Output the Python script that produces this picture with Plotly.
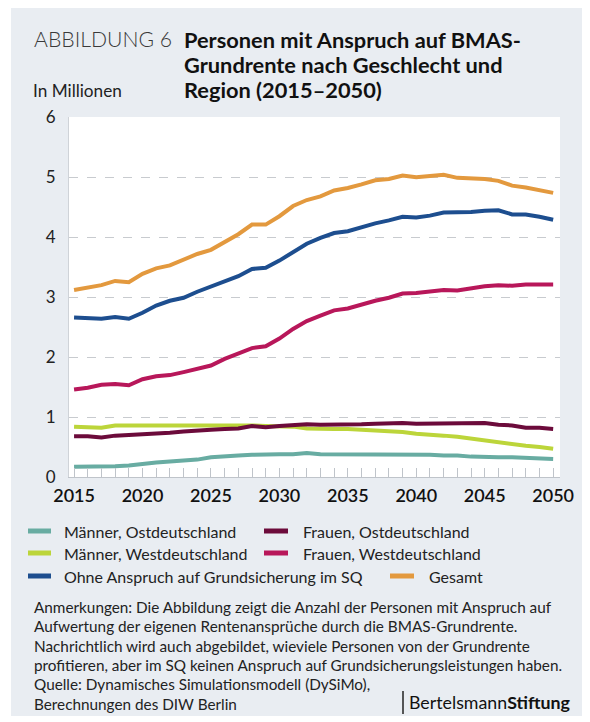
import plotly.graph_objects as go

years = list(range(2015, 2051))

maenner_ost = [0.17, 0.17, 0.17, 0.18, 0.19, 0.22, 0.24, 0.26, 0.27, 0.29,
               0.33, 0.35, 0.36, 0.37, 0.38, 0.38, 0.38, 0.40, 0.38, 0.38,
               0.38, 0.38, 0.38, 0.38, 0.37, 0.37, 0.37, 0.36, 0.36, 0.34,
               0.33, 0.33, 0.33, 0.32, 0.31, 0.30]
maenner_west = [0.84, 0.83, 0.82, 0.86, 0.86, 0.86, 0.86, 0.86, 0.86, 0.87,
                0.86, 0.86, 0.86, 0.86, 0.85, 0.85, 0.84, 0.81, 0.80, 0.80,
                0.80, 0.79, 0.78, 0.76, 0.75, 0.72, 0.71, 0.69, 0.67, 0.64,
                0.61, 0.58, 0.54, 0.52, 0.50, 0.47]
frauen_ost = [0.68, 0.68, 0.66, 0.69, 0.70, 0.71, 0.73, 0.74, 0.76, 0.78,
              0.79, 0.80, 0.81, 0.85, 0.83, 0.85, 0.87, 0.88, 0.87, 0.87,
              0.87, 0.88, 0.89, 0.90, 0.90, 0.89, 0.89, 0.90, 0.90, 0.90,
              0.90, 0.87, 0.86, 0.82, 0.82, 0.80]
frauen_west = [1.46, 1.49, 1.54, 1.55, 1.53, 1.63, 1.68, 1.70, 1.75, 1.81,
               1.86, 1.97, 2.06, 2.15, 2.18, 2.31, 2.47, 2.60, 2.69, 2.78,
               2.81, 2.88, 2.94, 2.99, 3.06, 3.07, 3.10, 3.12, 3.11, 3.15,
               3.18, 3.20, 3.19, 3.21, 3.21, 3.21]
ohne_anspruch = [2.66, 2.65, 2.64, 2.67, 2.64, 2.74, 2.86, 2.94, 2.99, 3.09,
                 3.18, 3.27, 3.35, 3.47, 3.49, 3.61, 3.76, 3.89, 3.99, 4.07,
                 4.10, 4.17, 4.23, 4.28, 4.34, 4.33, 4.36, 4.41, 4.41, 4.42,
                 4.44, 4.45, 4.38, 4.38, 4.34, 4.29]
gesamt = [3.12, 3.155, 3.20, 3.27, 3.25, 3.39, 3.48, 3.53, 3.62, 3.72,
          3.79, 3.92, 4.05, 4.21, 4.21, 4.35, 4.52, 4.62, 4.68, 4.78,
          4.82, 4.88, 4.95, 4.97, 5.03, 5.00, 5.02, 5.04, 4.99, 4.98,
          4.97, 4.94, 4.86, 4.83, 4.79, 4.74]

series_names = ["Männer, Ostdeutschland", "Männer, Westdeutschland",
                "Frauen, Ostdeutschland", "Frauen, Westdeutschland",
                "Ohne Anspruch auf Grundsicherung im SQ", "Gesamt"]
series_values = [maenner_ost, maenner_west, frauen_ost, frauen_west, ohne_anspruch, gesamt]
series_colors = ["#68aca2", "#bcd53a", "#6c0b3b", "#b8175a", "#1d4e8f", "#e3993e"]

y_ticks = [0, 1, 2, 3, 4, 5, 6]
x_ticks = [2015, 2020, 2025, 2030, 2035, 2040, 2045, 2050]

title_lines = ["Personen mit Anspruch auf BMAS-", "Grundrente nach Geschlecht und",
               "Region (2015–2050)"]
note_lines = ["Anmerkungen: Die Abbildung zeigt die Anzahl der Personen mit Anspruch auf",
              "Aufwertung der eigenen Rentenansprüche durch die BMAS-Grundrente.",
              "Nachrichtlich wird auch abgebildet, wieviele Personen von der Grundrente",
              "profitieren, aber im SQ keinen Anspruch auf Grundsicherungsleistungen haben.",
              "Quelle: Dynamisches Simulationsmodell (DySiMo),",
              "Berechnungen des DIW Berlin"]

# page offset (browser body margin)
OFF = 8
W, H = 590 - OFF, 722 - OFF
# plot area in page pixels
L, R, T, B = 69 - OFF, 560 - OFF, 117 - OFF, 477 - OFF
FONT = "Lato"
PANEL = "#e9edf2"


def px(x):
    return (x - OFF - L) / (R - L)


def py(y):
    return (B - (y - OFF)) / (B - T)


fig = go.Figure()
for i in range(6):
    fig.add_trace(go.Scatter(x=years, y=series_values[i], mode="lines",
                             name=series_names[i],
                             line=dict(color=series_colors[i], width=4),
                             showlegend=False, hoverinfo="skip"))

shapes = []
# white outer border around the panel (page coords)
for (x0, y0, x1, y1) in [(0, 0, 11, 730), (0, 716, 600, 730)]:
    shapes.append(dict(type="rect", xref="paper", yref="paper",
                       x0=px(x0), x1=px(x1), y0=py(y1), y1=py(y0),
                       fillcolor="white", line=dict(width=0), layer="below"))

annotations = []


def text(t, x, y, size, color="#222222", xanchor="left", weight=None):
    f = dict(family=FONT, size=size, color=color)
    if weight is not None:
        f["weight"] = weight
    annotations.append(dict(text=t, x=px(x), y=py(y), xref="paper", yref="paper",
                            xanchor=xanchor, yanchor="middle", showarrow=False, font=f))


text("ABBILDUNG 6", 32, 39, 21.2, "#3a3a3a", weight=300)
for k, line in enumerate(title_lines):
    text("<b>" + line + "</b>", 182, 39 + 25 * k, 21.8, "#111111")
text("In Millionen", 31, 90, 17.2)

# custom legend
legend_layout = [
    (0, 28, 51, 62, 531), (2, 264, 288, 301, 531),
    (1, 28, 51, 62, 553), (3, 264, 288, 301, 553),
    (4, 28, 51, 62, 576), (5, 390, 414, 427, 576),
]
for idx, sx0, sx1, tx, ty in legend_layout:
    shapes.append(dict(type="line", xref="paper", yref="paper",
                       x0=px(sx0), x1=px(sx1), y0=py(ty), y1=py(ty),
                       line=dict(color=series_colors[idx], width=5)))
    text(series_names[idx], tx, ty, 16)

for k, line in enumerate(note_lines):
    text(line, 32, 607 + 19.3 * k, 15.3)

text("Bertelsmann<b>Stiftung</b>", 573, 702, 17.8, "#111111", xanchor="right")
shapes.append(dict(type="line", xref="paper", yref="paper",
                   x0=px(403), x1=px(403), y0=py(691), y1=py(714),
                   line=dict(color="#222222", width=1.5)))

fig.update_layout(
    width=W, height=H,
    margin=dict(l=L, r=W - R, t=T, b=H - B, pad=0),
    paper_bgcolor=PANEL, plot_bgcolor="white",
    font=dict(family=FONT, color="#222222"),
    shapes=shapes, annotations=annotations,
    showlegend=False,
    xaxis=dict(range=[2014.63, 2050.5], tickvals=x_ticks, ticks="inside", ticklen=9,
               tickcolor="#bfc4ca", tickwidth=1, showgrid=False, zeroline=False,
               showline=True, linecolor="#bfc4ca", linewidth=1, ticklabelstandoff=2,
               tickfont=dict(family=FONT, size=18, color="#111111", weight=600),
               minor=dict(dtick=1, tick0=2015, ticks="inside", ticklen=9, tickcolor="#bfc4ca",
                          tickwidth=1, showgrid=False),
               fixedrange=True),
    yaxis=dict(range=[0, 6.005], tickvals=y_ticks, showgrid=True, gridcolor="#c8cbcf",
               griddash="dash", gridwidth=1, zeroline=False, showline=True,
               linecolor="#cfd3d8", linewidth=1, ticks="", ticklabelstandoff=9,
               tickfont=dict(family=FONT, size=17, color="#222222"), fixedrange=True),
)

fig.write_html("out.html")
